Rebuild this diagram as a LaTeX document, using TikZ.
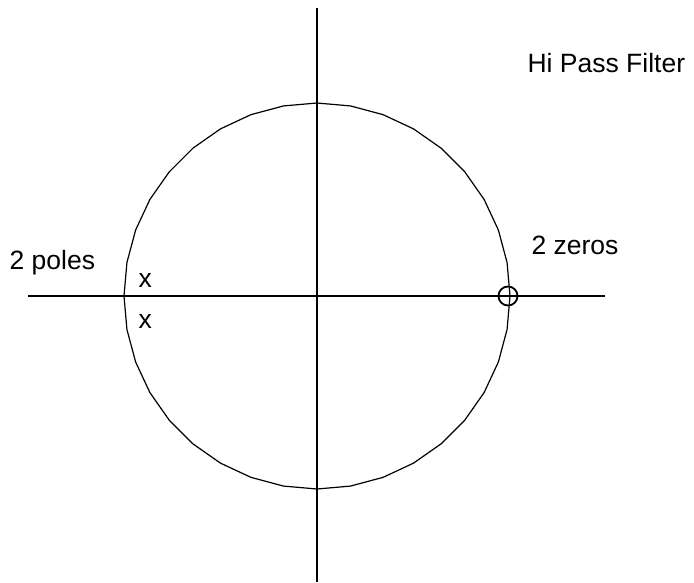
\documentclass[tikz,border=0pt]{standalone}
\usepackage{fontspec}
\setmainfont{Liberation Sans}
\begin{document}
\begin{tikzpicture}[x=1pt,y=-1pt,line width=1.2pt,
  lbl/.style={anchor=base west,inner sep=0pt,font=\fontsize{26.5}{30}\selectfont}]
\useasboundingbox (0,0) rectangle (694,582);
\coordinate (vt) at (317,8);
\coordinate (vb) at (317,582);
\coordinate (hl) at (28,296);
\coordinate (hr) at (605,296);
\draw (vt) -- (vb);
\draw (hl) -- (hr);
\draw[shift={(317,296)}] (0:193) \foreach \a in {10,20,...,350} { -- (\a:193) } -- cycle;
\node[draw,circle,minimum size=19pt,inner sep=0pt,line width=1.8pt] (zero) at (508,296) {};
\node[lbl] (title) at (527,72) {Hi Pass Filter};
\node[lbl] (poles) at (9,269) {2 poles};
\node[lbl] (zeros) at (531,254) {2 zeros};
\node[lbl] (x1) at (138,287) {x};
\node[lbl] (x2) at (138,328) {x};
\end{tikzpicture}
\end{document}
